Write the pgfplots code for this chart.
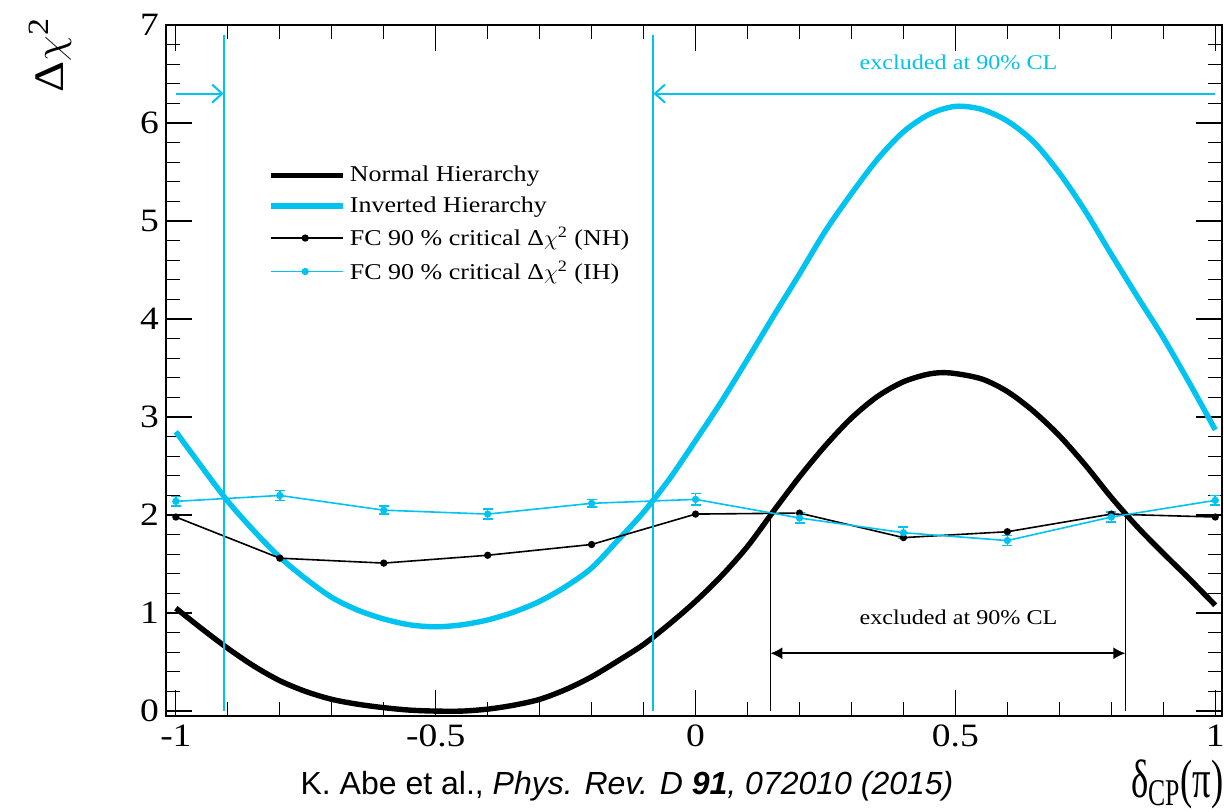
\documentclass[border=0pt]{standalone}
\usepackage{fontspec}
\setmainfont{Liberation Serif}[FakeStretch=1.15]
\newfontfamily\greekfont{Liberation Serif}
\newfontfamily\citefont{Liberation Sans}
\usepackage{graphicx}
\usepackage{pgfplots}
\usepackage{pgfplotstable}
\pgfplotsset{compat=1.18}
\usetikzlibrary{arrows.meta}
\definecolor{ihcol}{RGB}{0,195,240}

\pgfplotstableread{
x y
-1.00 1.05
-0.95 0.84
-0.90 0.64
-0.85 0.46
-0.80 0.31
-0.75 0.20
-0.70 0.12
-0.65 0.07
-0.60 0.035
-0.55 0.01
-0.50 0.00
-0.45 0.00
-0.40 0.02
-0.35 0.06
-0.30 0.12
-0.25 0.22
-0.20 0.35
-0.15 0.51
-0.10 0.68
-0.05 0.89
0.00 1.12
0.05 1.38
0.10 1.68
0.15 2.04
0.20 2.39
0.25 2.71
0.30 2.99
0.35 3.21
0.40 3.36
0.45 3.44
0.49 3.45
0.55 3.39
0.60 3.26
0.65 3.06
0.70 2.81
0.75 2.51
0.80 2.18
0.85 1.88
0.90 1.61
0.95 1.35
1.00 1.08
}\nhcurve

\pgfplotstableread{
x y
-1.00 2.85
-0.95 2.49
-0.90 2.14
-0.85 1.84
-0.80 1.57
-0.75 1.35
-0.70 1.16
-0.65 1.03
-0.60 0.94
-0.55 0.88
-0.50 0.86
-0.45 0.88
-0.40 0.93
-0.35 1.01
-0.30 1.12
-0.25 1.27
-0.20 1.46
-0.15 1.74
-0.10 2.03
-0.05 2.37
0.00 2.76
0.05 3.16
0.10 3.59
0.15 4.03
0.20 4.46
0.25 4.90
0.30 5.28
0.35 5.63
0.40 5.91
0.45 6.09
0.50 6.17
0.55 6.14
0.60 6.02
0.65 5.81
0.70 5.49
0.75 5.10
0.80 4.66
0.85 4.23
0.90 3.81
0.95 3.35
1.00 2.87
}\ihcurve

\pgfplotstableread{
x y
-1.0 1.98
-0.8 1.56
-0.6 1.51
-0.4 1.59
-0.2 1.70
0.0 2.01
0.2 2.02
0.4 1.77
0.6 1.83
0.8 2.01
1.0 1.98
}\fcnh

\pgfplotstableread{
x y e
-1.0 2.14 0.05
-0.8 2.20 0.05
-0.6 2.05 0.04
-0.4 2.01 0.05
-0.2 2.12 0.04
0.0 2.16 0.06
0.2 1.97 0.05
0.4 1.82 0.06
0.6 1.74 0.05
0.8 1.98 0.05
1.0 2.15 0.05
}\fcih

\begin{document}
\begin{tikzpicture}
\begin{axis}[
  scale only axis,
  width=528pt, height=345.5pt,
  xmin=-1.019, xmax=1.013,
  ymin=-0.05, ymax=7.0,
  xtick={-1,-0.5,0,0.5,1},
  xticklabels={-1,-0.5,0,0.5,1},
  ytick={0,1,2,3,4,5,6,7},
  yticklabels={0,1,2,3,4,5,6,7},
  minor x tick num=4,
  minor y tick num=4,
  major tick length=13pt,
  minor tick length=7pt,
  tick style={line width=0.6pt, black},
  axis line style={line width=0.7pt},
  ticklabel style={font=\fontsize{16.3}{18}\selectfont},
  xticklabel style={yshift=-1pt},
  legend style={at={(axis description cs:0.091,0.811)}, anchor=north west,
    draw=none, fill=none, font=\fontsize{11.3}{13}\selectfont,
    row sep=0pt, nodes={inner ysep=3pt}},
  legend cell align=left,
  legend image code/.code={\path (0pt,0pt) -- (36pt,0pt);\draw[mark repeat=2,mark phase=2,#1] plot coordinates {(0pt,0pt) (17pt,0pt) (34pt,0pt)};},
]
\addplot[black, line width=2.7pt, smooth, tension=0.5] table[x=x,y=y]{\nhcurve};
\addlegendentry{Normal Hierarchy}
\addplot[ihcol, line width=2.7pt, smooth, tension=0.5] table[x=x,y=y]{\ihcurve};
\addlegendentry{Inverted Hierarchy}
\addplot[black, line width=0.8pt, mark=*, mark size=1.4pt] table[x=x,y=y]{\fcnh};
\addlegendentry{FC 90 \% critical Δ$\chi$\textsuperscript{2} (NH)}
\addplot[ihcol, line width=0.8pt, mark=*, mark size=1.4pt,
  error bars/.cd, y dir=both, y explicit,
  error bar style={line width=0.8pt},
  error mark options={rotate=90, mark size=2.5pt, line width=0.8pt, ihcol}]
  table[x=x,y=y,y error=e]{\fcih};
\addlegendentry{FC 90 \% critical Δ$\chi$\textsuperscript{2} (IH)}

\addplot[ihcol, line width=1pt, forget plot] coordinates {(-0.908,0) (-0.908,6.9)};
\addplot[ihcol, line width=1pt, forget plot] coordinates {(-0.081,0) (-0.081,6.9)};
\addplot[black, line width=0.7pt, forget plot] coordinates {(0.144,0) (0.144,2.0)};
\addplot[black, line width=0.7pt, forget plot] coordinates {(0.827,0) (0.827,2.0)};

\draw[ihcol, line width=1pt, -{Straight Barb[length=5pt,width=9pt]}] (axis cs:-1,6.30) -- (axis cs:-0.908,6.30);
\draw[ihcol, line width=1pt, -{Straight Barb[length=5pt,width=9pt]}] (axis cs:1,6.30) -- (axis cs:-0.081,6.30);
\draw[black, line width=0.8pt, {Latex[length=6pt,width=6pt]}-{Latex[length=6pt,width=6pt]}] (axis cs:0.144,0.59) -- (axis cs:0.827,0.59);

\node[ihcol, font=\fontsize{10.5}{12}\selectfont] at (axis cs:0.506,6.62) {excluded at 90\% CL};
\node[black, font=\fontsize{10.5}{12}\selectfont] at (axis cs:0.506,0.96) {excluded at 90\% CL};

\coordinate (sw) at (axis description cs:0,0);
\coordinate (ne) at (axis description cs:1,1);
\end{axis}
\node[rotate=90, font=\fontsize{21}{24}\selectfont] at ([xshift=-58pt,yshift=-15pt]ne -| sw) {Δ$\chi$\textsuperscript{2}};
\node[anchor=east, inner sep=0pt, font=\greekfont\fontsize{27}{30}\selectfont] at ([xshift=1pt,yshift=-34pt]sw -| ne) {\scalebox{0.68}[1]{δ\textsubscript{CP}(π)}};
\node[font=\citefont\fontsize{16}{19}\selectfont] at ([xshift=230.5pt,yshift=-35pt]sw) {K. Abe et al., \textit{Phys. Rev. D \textbf{91}, 072010 (2015)}};
\pgfresetboundingbox
\path ([shift={(-83pt,-48pt)}]sw) rectangle ([shift={(1pt,12.5pt)}]ne);
\end{tikzpicture}
\end{document}
